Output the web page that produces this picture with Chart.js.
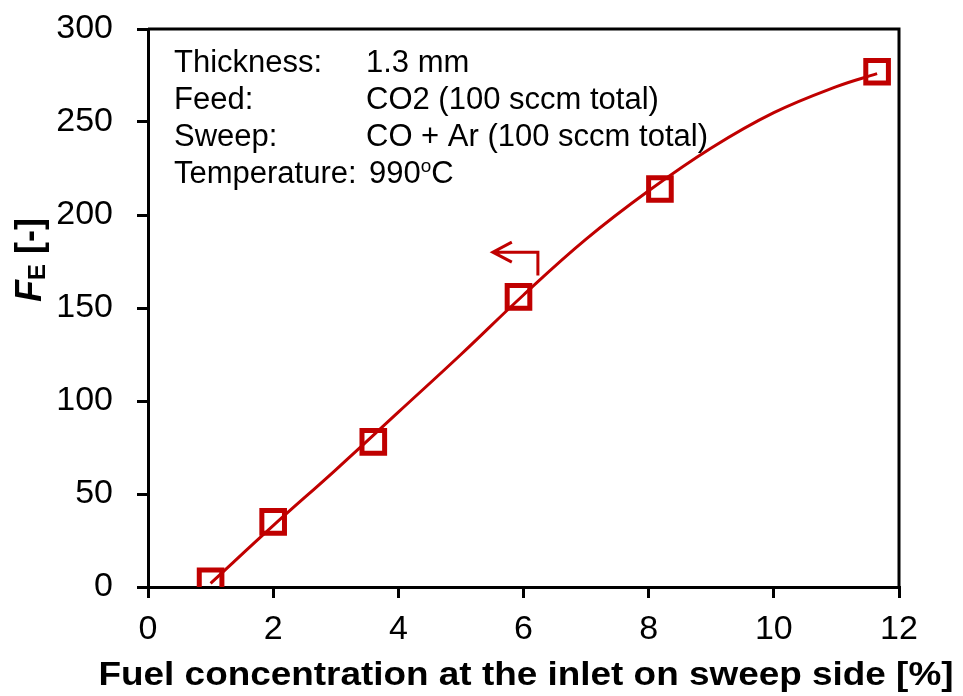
<!DOCTYPE html>
<html>
<head>
<meta charset="utf-8">
<script src="https://cdn.jsdelivr.net/npm/chart.js@4.4.1/dist/chart.umd.min.js"></script>
<style>
    html, body { margin: 0; padding: 0; background: #fff; }
    #chartBox { width: 963px; height: 696px; }
</style>
</head>
<body>
<div id="chartBox"><canvas id="fuelChart"></canvas></div>

<script>
// measured points: fuel concentration [%] vs F_E [-]
const fuelConc = [1.0, 2.0, 3.6, 5.92, 8.18, 11.65];
const feValues = [3, 35, 78, 156, 214, 277];

// trend line
const fitX = [1.0, 2.0, 3.0, 4.0, 5.0, 6.0, 7.0, 8.0, 9.0, 10.0, 11.0, 11.65];
const fitY = [2, 33, 63, 94, 125, 157, 187, 213, 236, 255, 269, 276];

const xTicks = [0, 2, 4, 6, 8, 10, 12];
const yTicks = [0, 50, 100, 150, 200, 250, 300];

const xTitle = 'Fuel concentration at the inlet on sweep side [%]';
const infoLabels = ['Thickness:', 'Feed:', 'Sweep:', 'Temperature:'];
const infoValues = ['1.3 mm', 'CO2 (100 sccm total)', 'CO + Ar (100 sccm total)', '990'];

// arrow pointing to the left axis, in data units
const arrowX = [6.23, 5.51];
const arrowY = [167.5, 180];

const RED = '#c00000';
const FONT = '"Liberation Sans", Arial, sans-serif';

const framePlugin = {
    id: 'frame',
    afterDatasetsDraw(chart) {
        const { ctx, chartArea: a, scales } = chart;
        ctx.save();
        ctx.strokeStyle = '#000';
        ctx.lineWidth = 3;
        ctx.beginPath();
        ctx.moveTo(a.left, a.top);
        ctx.lineTo(a.right, a.top);
        ctx.lineTo(a.right, a.bottom);
        ctx.stroke();

        // arrow
        const x0 = scales.x.getPixelForValue(arrowX[0]);
        const x1 = scales.x.getPixelForValue(arrowX[1]);
        const yb = scales.y.getPixelForValue(arrowY[0]);
        const yt = scales.y.getPixelForValue(arrowY[1]);
        ctx.strokeStyle = RED;
        ctx.lineWidth = 3;
        ctx.beginPath();
        ctx.moveTo(x0, yb);
        ctx.lineTo(x0, yt);
        ctx.lineTo(x1, yt);
        ctx.moveTo(x1 + 19, yt - 10);
        ctx.lineTo(x1, yt);
        ctx.lineTo(x1 + 19, yt + 10);
        ctx.stroke();

        // info text
        ctx.fillStyle = '#000';
        ctx.font = '31px ' + FONT;
        ctx.textBaseline = 'alphabetic';
        const lx = a.left + 26;
        const vx = a.left + 218;
        infoLabels.forEach((t, i) => {
            const y = a.top + 43 + i * 37;
            ctx.fillText(t, lx, y);
            if (i < 3) {
                ctx.fillText(infoValues[i], vx, y);
            }
        });
        const ty = a.top + 43 + 3 * 37;
        const tx = vx + 3;
        ctx.fillText(infoValues[3], tx, ty);
        let w = ctx.measureText(infoValues[3]).width;
        ctx.font = '19px ' + FONT;
        ctx.fillText('o', tx + w, ty - 11);
        w += ctx.measureText('o').width;
        ctx.font = '31px ' + FONT;
        ctx.fillText('C', tx + w, ty);

        // x title, a little wider than the plot
        ctx.save();
        ctx.font = 'bold 34px ' + FONT;
        const tw = ctx.measureText(xTitle).width;
        ctx.translate(526, 685);
        ctx.scale(855 / tw, 1);
        ctx.textAlign = 'center';
        ctx.fillText(xTitle, 0, 0);
        ctx.restore();

        // y title with subscript
        ctx.translate(28, 260);
        ctx.rotate(-Math.PI / 2);
        const parts = [
            ['italic bold 36px ', 'F', 0],
            ['bold 24px ', 'E', 4],
            ['bold 36px ', ' [-]', 0]
        ];
        let total = 0;
        parts.forEach(p => { ctx.font = p[0] + FONT; total += ctx.measureText(p[1]).width; });
        let px = -total / 2;
        parts.forEach(p => {
            ctx.font = p[0] + FONT;
            ctx.fillText(p[1], px, 13 + p[2]);
            px += ctx.measureText(p[1]).width;
        });
        ctx.restore();
    }
};

new Chart(document.getElementById('fuelChart'), {
    type: 'scatter',
    data: {
        datasets: [{
            data: fitX.map((x, i) => ({ x: x, y: fitY[i] })),
            showLine: true,
            tension: 0.4,
            borderColor: RED,
            borderWidth: 3,
            pointRadius: 0
        }, {
            data: fuelConc.map((x, i) => ({ x: x, y: feValues[i] })),
            showLine: false,
            pointStyle: 'rect',
            pointRadius: 16,
            pointBorderWidth: 5,
            pointBorderColor: RED,
            pointBackgroundColor: 'rgba(0,0,0,0)'
        }]
    },
    options: {
        responsive: true,
        maintainAspectRatio: false,
        animation: false,
        layout: { padding: { top: 29, right: 64, left: 0, bottom: 0 } },
        plugins: { legend: { display: false }, tooltip: { enabled: false } },
        scales: {
            x: {
                min: 0, max: 12,
                afterBuildTicks(s) { s.ticks = xTicks.map(v => ({ value: v })); },
                afterFit(s) { s.height = 109; },
                grid: { display: true, drawOnChartArea: false, drawTicks: true, tickLength: 11, color: '#000', lineWidth: 3 },
                border: { display: true, color: '#000', width: 3 },
                ticks: { color: '#000', font: { family: FONT, size: 34 }, padding: 11, maxRotation: 0 }
            },
            y: {
                min: 0, max: 300,
                afterBuildTicks(s) { s.ticks = yTicks.map(v => ({ value: v })); },
                afterFit(s) { s.width = 148; s.paddingTop = 0; s.paddingBottom = 0; },
                grid: { display: true, drawOnChartArea: false, drawTicks: true, tickLength: 11, color: '#000', lineWidth: 3 },
                border: { display: true, color: '#000', width: 3 },
                ticks: { color: '#000', font: { family: FONT, size: 34 }, padding: 24 }
            }
        }
    },
    plugins: [framePlugin]
});
</script>
</body>
</html>
